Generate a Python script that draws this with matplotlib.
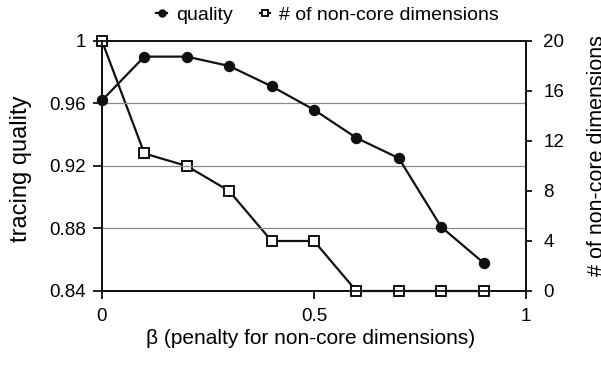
import numpy as np
import matplotlib.pyplot as plt

plt.rcParams["font.family"] = ["Liberation Sans", "DejaVu Sans"]

# penalty values and the two measured series
beta = [0, 0.1, 0.2, 0.3, 0.4, 0.5, 0.6, 0.7, 0.8, 0.9]
quality = [0.962, 0.990, 0.990, 0.984, 0.971, 0.956, 0.938, 0.925, 0.881, 0.858]
noncore = [20, 11, 10, 8, 4, 4, 0, 0, 0, 0]

left_ticks = [0.84, 0.88, 0.92, 0.96, 1.0]
left_labels = ["0.84", "0.88", "0.92", "0.96", "1"]
right_ticks = [0, 4, 8, 12, 16, 20]
x_ticks = [0, 0.5, 1]
x_labels = ["0", "0.5", "1"]

fig = plt.figure(figsize=(6.01, 3.67), dpi=100)
ax = fig.add_axes([0.1697, 0.2071, 0.7055, 0.6812])
ax2 = ax.twinx()

for y in [0.88, 0.92, 0.96]:
    ax.axhline(y, color="#8a8a8a", lw=0.9, zorder=0)

l1, = ax.plot(beta, quality, color="#111111", lw=1.6, marker="o", ms=7.2,
              mfc="#111111", mec="#111111", clip_on=False, zorder=3)
l2, = ax2.plot(beta, noncore, color="#111111", lw=1.6, marker="s", ms=7,
               mfc="white", mec="#111111", mew=1.4, clip_on=False, zorder=3)

ax.set_xlim(0, 1)
ax.set_ylim(0.84, 1.0)
ax2.set_ylim(0, 20)

ax.set_xticks(x_ticks)
ax.set_xticklabels(x_labels)
ax.set_yticks(left_ticks)
ax.set_yticklabels(left_labels)
ax2.set_yticks(right_ticks)

for a in (ax, ax2):
    for s in a.spines.values():
        s.set_linewidth(1.3)
        s.set_color("#111111")
    a.tick_params(labelsize=13.5, width=1.3, color="#111111", direction="out")
ax.tick_params(axis="x", length=6, pad=6)
ax.tick_params(axis="y", length=6.5, pad=5)
ax2.tick_params(axis="y", length=4.5, pad=8)

ax.set_ylabel("tracing quality", fontsize=17)
ax.yaxis.set_label_coords(-0.165, 0.488)
ax2.set_ylabel("# of non-core dimensions", fontsize=15.5)
ax2.yaxis.set_label_coords(1.144, 0.54)
ax.set_xlabel("β (penalty for non-core dimensions)", fontsize=15)
ax.xaxis.set_label_coords(0.493, -0.152)

ax.set_zorder(ax2.get_zorder() + 1)
ax.patch.set_visible(False)

fig.legend([l1, l2], ["quality", "# of non-core dimensions"], loc="center",
           bbox_to_anchor=(0.545, 0.958), ncol=2, frameon=False, fontsize=14,
           markerscale=0.7, handlelength=0.55, columnspacing=1.4,
           handletextpad=0.45, borderpad=0, borderaxespad=0)

fig.savefig("out.png", dpi=100)
